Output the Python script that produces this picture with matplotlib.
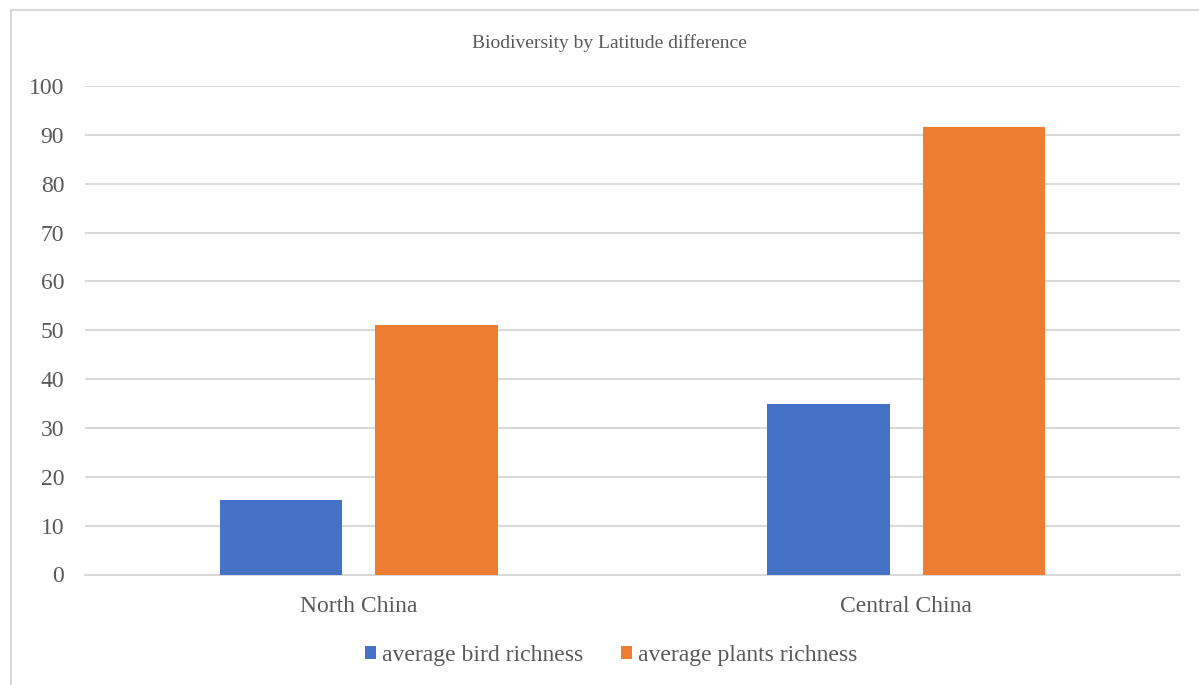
import numpy as np
import matplotlib.pyplot as plt
from matplotlib.lines import Line2D
from matplotlib.patches import Patch

regions = ['North China', 'Central China']
bird_richness = [15.2, 35.0]
plants_richness = [51.0, 91.6]
series_names = ['average bird richness', 'average plants richness']
y_ticks = list(range(0, 101, 10))

blue = '#4472C4'
orange = '#ED7D31'
grid_col = '#D9D9D9'
text_col = '#595959'

plt.rcParams['font.family'] = ['Liberation Serif', 'DejaVu Serif']

W, H = 1199, 685
fig = plt.figure(figsize=(W / 100, H / 100), dpi=100)
ax = fig.add_axes([85 / W, 1 - 574.5 / H, 1095 / W, 488.5 / H])

x = np.arange(len(regions))
bw = 0.224
off = 0.142
ax.bar(x - off, bird_richness, bw, color=blue, zorder=3)
ax.bar(x + off, plants_richness, bw, color=orange, zorder=3)

ax.set_xlim(-0.5, 1.5)
ax.set_ylim(0, 100)
ax.set_yticks(y_ticks)
ax.set_xticks(x)
ax.set_xticklabels(regions)
ax.tick_params(axis='both', length=0, labelsize=17, labelcolor=text_col)
ax.tick_params(axis='y', pad=15)
ax.tick_params(axis='x', pad=15.5)
ax.yaxis.grid(True, color=grid_col, linewidth=1.5, zorder=0)
for s in ['top', 'right', 'left']:
    ax.spines[s].set_visible(False)
ax.spines['bottom'].set_color(grid_col)
ax.spines['bottom'].set_linewidth(1.5)

fig.text(609 / W, 1 - 43 / H, 'Biodiversity by Latitude difference',
         ha='center', va='center', fontsize=14, color=text_col)

handles = [Patch(facecolor=blue), Patch(facecolor=orange)]
fig.legend(handles, series_names, loc='center', bbox_to_anchor=(611 / W, 1 - 655 / H),
           ncol=2, frameon=False, fontsize=17, labelcolor=text_col,
           handlelength=0.47, handleheight=0.47, handletextpad=0.25,
           columnspacing=1.6)

# chart border (top and left edges)
fig.add_artist(Line2D([11 / W, 1.0], [1 - 9.5 / H, 1 - 9.5 / H], color=grid_col, linewidth=1.5))
fig.add_artist(Line2D([11 / W, 11 / W], [0.0, 1 - 9.5 / H], color=grid_col, linewidth=1.5))

fig.savefig('out.png', dpi=100)
